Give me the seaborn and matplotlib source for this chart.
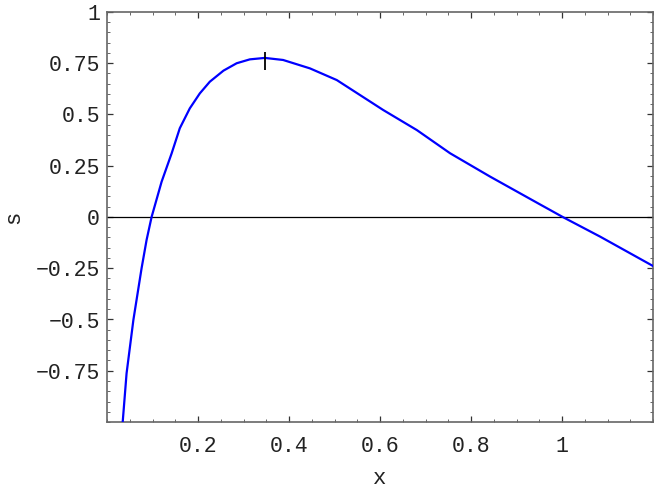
import matplotlib
matplotlib.use("Agg")
import matplotlib.pyplot as plt
from matplotlib.ticker import FixedLocator, FixedFormatter, MultipleLocator
import seaborn as sns

# ── Data ─────────────────────────────────────────────────────────────
x_vals = [0.0345, 0.043, 0.058, 0.076, 0.087, 0.098, 0.120, 0.142, 0.160,
          0.182, 0.204, 0.226, 0.256, 0.285, 0.314, 0.347, 0.387, 0.446,
          0.505, 0.607, 0.681, 0.754, 0.842, 0.952, 0.974, 1.0016, 1.084, 1.2]
s_vals = [-1.0, -0.763, -0.502, -0.25, -0.112, 0.0, 0.172, 0.31, 0.433,
          0.53, 0.603, 0.66, 0.714, 0.75, 0.769, 0.776, 0.766, 0.725,
          0.668, 0.522, 0.424, 0.311, 0.197, 0.061, 0.034, 0.0, -0.096, -0.239]

# maximum marked with a short vertical tick
peak_x = [0.347]
peak_s = [0.759]

x_ticks = [0.2, 0.4, 0.6, 0.8, 1.0]
x_labels = ["0.2", "0.4", "0.6", "0.8", "1"]
y_ticks = [1.0, 0.75, 0.5, 0.25, 0.0, -0.25, -0.5, -0.75]
y_labels = ["1", "0.75", "0.5", "0.25", "0", "\u22120.25", "\u22120.5", "\u22120.75"]

# ── Style ────────────────────────────────────────────────────────────
sns.set_style("ticks")
plt.rcParams["font.family"] = ["Liberation Mono", "DejaVu Sans Mono"]
TXT = "#222222"
FRAME = "#666666"

fig = plt.figure(figsize=(6.54, 4.90), dpi=100)
ax = fig.add_axes([107 / 654, 68 / 490, 546 / 654, 410 / 490])

ax.axhline(0, color="black", linewidth=0.9, zorder=1)
sns.lineplot(x=x_vals, y=s_vals, sort=False, estimator=None,
             color="#0000FF", linewidth=1.6, ax=ax, zorder=3)
ax.plot(peak_x, peak_s, marker="|", markersize=13, markeredgewidth=1.3,
        color="black", linestyle="none", zorder=4)

ax.set_xlim(0, 1.2)
ax.set_ylim(-1.0, 1.0)

ax.xaxis.set_major_locator(FixedLocator(x_ticks))
ax.xaxis.set_major_formatter(FixedFormatter(x_labels))
ax.xaxis.set_minor_locator(MultipleLocator(0.05))
ax.yaxis.set_major_locator(FixedLocator(y_ticks))
ax.yaxis.set_major_formatter(FixedFormatter(y_labels))
ax.yaxis.set_minor_locator(MultipleLocator(0.05))

ax.tick_params(which="both", direction="in", top=True, right=True,
               color=FRAME, labelsize=15.5, labelcolor=TXT)
ax.tick_params(which="major", length=4.5, width=0.9, color="#333333")
ax.tick_params(which="minor", length=2.5, width=0.7)
ax.tick_params(axis="x", which="major", pad=10)
ax.tick_params(axis="y", which="major", pad=5)

for side in ["left", "right", "top", "bottom"]:
    ax.spines[side].set_visible(True)
    ax.spines[side].set_color(FRAME)
    ax.spines[side].set_linewidth(1.2)

ax.set_xlabel("x", fontsize=16, color=TXT, labelpad=8)
ax.set_ylabel("s", fontsize=16, color=TXT)
ax.yaxis.set_label_coords(-0.152, 0.5)

plt.savefig("out.png", dpi=100)
plt.close()
